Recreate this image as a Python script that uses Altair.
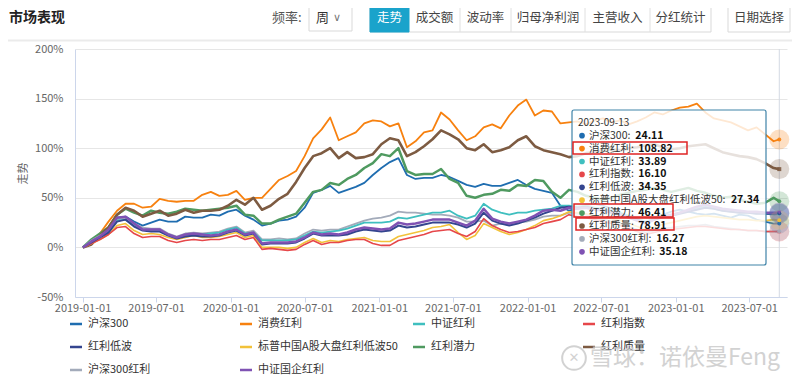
import altair as alt
import pandas as pd

FONT = "Noto Sans CJK SC"
OX, OY = 75, 49  # plot origin on the page

dates = [d.strftime("%Y-%m-%d") for d in pd.date_range("2019-01-02", periods=82, freq="21D")] + ["2023-09-13"]

names = ["沪深300", "消费红利", "中证红利", "红利指数", "红利低波",
         "标普中国A股大盘红利低波50", "红利潜力", "红利质量", "沪深300红利", "中证国企红利"]
colors = ["#1f6db0", "#f7810f", "#3fbfbf", "#e6474a", "#34458f",
          "#f2c23a", "#4f9a60", "#7d5b42", "#a3abba", "#7f52b3"]
widths = [1.8, 1.8, 1.8, 1.6, 2.0, 1.6, 2.5, 2.6, 1.8, 2.5]
end_shapes = ["circle", "circle", "circle", "triangle-up", "circle",
              "circle", "circle", "square", "circle", "triangle-down"]

hs300 = [0, 5, 12, 19, 30, 31, 26, 22, 25, 28, 26, 26, 31, 30, 30, 33, 32, 36, 38, 32,
         28, 22, 24, 27, 28, 31, 40, 55, 58, 62, 55, 58, 61, 65, 73, 80, 86, 90, 73, 69,
         70, 70, 73, 71, 67, 63, 61, 64, 62, 62, 65, 68, 63, 59, 57, 55, 42, 37, 39, 43,
         44, 42, 39, 35, 30, 27, 24, 30, 33, 36, 38, 36, 34, 33, 34, 32, 30, 33, 32, 28,
         26, 24, 24.11]
xiaofei = [0, 5, 14, 26, 37, 44, 44, 40, 41, 49, 47, 46, 47, 47, 53, 56, 52, 53, 57, 48,
           50, 50, 59, 68, 72, 77, 92, 110, 119, 131, 108, 112, 116, 125, 128, 127, 122, 125, 101, 107,
           116, 118, 136, 129, 118, 108, 112, 121, 124, 120, 133, 143, 149, 133, 138, 137, 125, 126, 127, 124,
           128, 130, 126, 128, 124, 127, 131, 136, 134, 138, 141, 142, 145, 136, 130, 128, 126, 122, 118, 121,
           114, 107, 108.82]
zzhl = [0, 6, 11, 16, 27, 28, 22, 18, 17, 17, 13, 10, 12, 13, 13, 14, 15, 18, 20, 14,
        15, 7, 7, 7, 7, 8, 12, 16, 15, 16, 17, 19, 22, 25, 25, 25, 26, 30, 29, 31,
        33, 35, 35, 37, 32, 29, 32, 44, 38, 35, 33, 35, 35, 37, 38, 39, 42, 42, 41, 42,
        40, 39, 37, 35, 32, 29, 26, 29, 31, 33, 35, 37, 39, 41, 39, 37, 36, 35, 35, 34,
        34, 33, 33.89]
hlzs = [0, 4, 8, 13, 20, 21, 14, 10, 11, 11, 7, 5, 7, 8, 7, 8, 8, 10, 12, 8,
        10, -2, -1, -2, -3, -2, 3, 7, 3, 5, 5, 7, 8, 8, 4, 2, 2, 7, 9, 11,
        13, 16, 17, 18, 14, 11, 16, 29, 22, 18, 15, 16, 18, 20, 24, 26, 28, 33, 31, 30,
        28, 26, 24, 22, 19, 16, 13, 15, 17, 18, 19, 20, 21, 21, 20, 19, 18, 18, 17, 17,
        16, 16, 16.10]
hldb = [0, 5, 10, 15, 26, 28, 21, 17, 16, 16, 12, 9, 11, 12, 11, 11, 12, 15, 17, 12,
        14, 3, 4, 4, 4, 5, 9, 14, 12, 12, 12, 13, 16, 18, 17, 16, 17, 22, 20, 21,
        23, 25, 25, 25, 23, 20, 24, 35, 27, 24, 22, 24, 27, 30, 34, 37, 40, 41, 40, 41,
        39, 38, 36, 34, 31, 28, 25, 28, 30, 32, 34, 36, 38, 40, 39, 37, 36, 35, 35, 34,
        34, 34, 34.35]
bp50 = [0, 4, 8, 13, 22, 24, 17, 13, 14, 13, 10, 8, 10, 12, 10, 10, 11, 13, 15, 10,
        12, 0, 0, 0, -1, 0, 5, 9, 5, 7, 6, 8, 9, 10, 7, 6, 6, 11, 13, 15,
        17, 20, 21, 23, 15, 8, 12, 24, 20, 16, 13, 15, 18, 22, 27, 29, 32, 36, 35, 34,
        32, 31, 29, 27, 24, 21, 18, 21, 23, 25, 27, 29, 31, 32, 31, 30, 29, 28, 28, 27,
        27, 28, 27.34]
hlql = [0, 8, 14, 20, 33, 39, 35, 32, 37, 35, 34, 36, 39, 38, 37, 38, 39, 40, 42, 33,
        32, 24, 24, 28, 31, 34, 45, 56, 58, 65, 63, 69, 73, 80, 85, 94, 92, 100, 77, 73,
        74, 74, 79, 69, 65, 52, 50, 53, 54, 58, 57, 63, 62, 68, 67, 56, 50, 58, 56, 52,
        50, 48, 50, 53, 55, 57, 58, 60, 58, 56, 58, 60, 57, 55, 52, 50, 51, 48, 46, 44,
        45, 50, 46.41]
hlzl = [0, 3, 12, 20, 33, 40, 37, 31, 34, 37, 32, 34, 38, 35, 37, 37, 38, 42, 48, 43,
        50, 38, 42, 49, 54, 66, 80, 92, 95, 100, 90, 96, 90, 91, 94, 104, 110, 108, 92, 96,
        102, 109, 118, 114, 109, 100, 98, 104, 96, 98, 101, 108, 112, 102, 98, 96, 94, 91, 92, 95,
        96, 98, 99, 98, 100, 101, 103, 104, 101, 99, 100, 102, 103, 104, 100, 96, 94, 92, 91, 89,
        85, 80, 78.91]
hs300hl = [0, 7, 12, 17, 28, 30, 24, 20, 19, 19, 14, 11, 14, 15, 14, 15, 16, 19, 21, 15,
           17, 8, 8, 9, 8, 9, 14, 18, 17, 18, 18, 21, 24, 27, 29, 30, 32, 36, 35, 35,
           34, 33, 33, 32, 30, 26, 26, 27, 22, 24, 23, 25, 26, 28, 31, 32, 32, 35, 34, 33,
           30, 28, 26, 24, 21, 18, 15, 17, 19, 20, 21, 22, 22, 23, 21, 20, 19, 18, 17, 17,
           16, 16, 16.27]
gqhl = [0, 6, 11, 18, 30, 31, 24, 18, 18, 18, 13, 10, 13, 14, 13, 12, 13, 16, 18, 13,
        15, 4, 5, 5, 5, 6, 10, 15, 13, 14, 13, 15, 18, 20, 19, 18, 19, 25, 23, 24,
        26, 28, 28, 28, 25, 22, 27, 39, 29, 26, 24, 26, 28, 32, 37, 38, 37, 40, 39, 40,
        38, 37, 35, 33, 30, 27, 24, 28, 31, 33, 35, 38, 41, 43, 41, 39, 38, 37, 36, 36,
        35, 35, 35.18]

series = [hs300, xiaofei, zzhl, hlzs, hldb, bp50, hlql, hlzl, hs300hl, gqhl]
draw_order = [1, 0, 6, 7, 8, 2, 5, 3, 4, 9]

y_ticks = [-50, 0, 50, 100, 150, 200]
x_ticks = ["2019-01-01", "2019-07-01", "2020-01-01", "2020-07-01", "2021-01-01",
           "2021-07-01", "2022-01-01", "2022-07-01", "2023-01-01", "2023-07-01"]
tip_date = "2023-09-13"

legend_cols_icon = [70, 240, 413, 583]
legend_cols_text = [88, 258, 431, 601]
legend_rows = [324, 347, 370]

buttons = ["走势", "成交额", "波动率", "归母净利润", "主营收入", "分红统计"]
button_edges = [370, 409, 460, 511, 585, 650, 711]


def dt(s, **kw):
    y, m, d = (int(p) for p in s.split("-"))
    return alt.DateTime(year=y, month=m, date=d, utc=True, **kw)


x_scale = alt.Scale(type="utc", domain=[dt("2018-12-13", hours=12), dt("2023-10-02")])
y_scale = alt.Scale(domain=[-50, 200], nice=False, zero=False)
x_enc = alt.X("date:T", scale=x_scale,
              axis=alt.Axis(values=[dt(s) for s in x_ticks], format="%Y-%m-%d", title="",
                            grid=False, domainColor="#ccd6eb", tickColor="#ccd6eb", tickSize=5,
                            labelColor="#666", labelFontSize=11, labelPadding=0))
y_enc = alt.Y("value:Q", scale=y_scale,
              axis=alt.Axis(values=y_ticks, labelExpr="datum.value + '%'", title="走势",
                            titleColor="#666", titleFontSize=11, titleFontWeight="normal",
                            titlePadding=6, ticks=False, domainColor="#ccd6eb",
                            gridColor="#e6e6e6", labelColor="#666", labelFontSize=11,
                            labelPadding=12))

ONE = alt.Data(values=[{"k": 0}])


def txt(s, ax, ay, size=12, color="#333", weight="normal", align="left", font=FONT, opacity=1.0):
    return alt.Chart(ONE).mark_text(text=s, align=align, baseline="middle", fontSize=size,
                                    color=color, fontWeight=weight, font=font,
                                    opacity=opacity).encode(x=alt.value(ax - OX), y=alt.value(ay - OY))


def box(x1, y1, x2, y2, fill="#ffffff", stroke="#d9d9d9", sw=1.0, fo=1.0, cr=0):
    return alt.Chart(ONE).mark_rect(fill=fill, stroke=stroke, strokeWidth=sw, fillOpacity=fo,
                                    cornerRadius=cr).encode(
        x=alt.value(x1 - OX), x2=alt.value(x2 - OX), y=alt.value(y1 - OY), y2=alt.value(y2 - OY))


def hline(x1, x2, y, color, sw):
    return alt.Chart(ONE).mark_rule(color=color, strokeWidth=sw).encode(
        x=alt.value(x1 - OX), x2=alt.value(x2 - OX), y=alt.value(y - OY))


def vline(x, y1, y2, color, sw=1):
    return alt.Chart(ONE).mark_rule(color=color, strokeWidth=sw).encode(
        x=alt.value(x - OX), y=alt.value(y1 - OY), y2=alt.value(y2 - OY))


def dot(ax, ay, color, size=40, opacity=1.0):
    return alt.Chart(ONE).mark_circle(color=color, size=size, opacity=opacity).encode(
        x=alt.value(ax - OX), y=alt.value(ay - OY))


def tw(s, f):
    w = 0.0
    for ch in s:
        if ord(ch) > 0x2E80:
            w += f
        elif ch.isdigit():
            w += 0.57 * f
        elif ch == ":":
            w += 0.3 * f
        elif ch == " ":
            w += 0.3 * f
        elif ch.isupper():
            w += 0.68 * f
        else:
            w += 0.52 * f
    return w


layers = []

# crosshair at tooltip date
layers.append(alt.Chart(pd.DataFrame({"date": [tip_date]})).mark_rule(
    color="#d3d9e3", strokeWidth=1).encode(x=alt.X("date:T")))

# series lines
for i in draw_order:
    df = pd.DataFrame({"date": dates, "value": series[i]})
    layers.append(alt.Chart(df).mark_line(color=colors[i], strokeWidth=widths[i],
                                          strokeJoin="round").encode(x=x_enc, y=y_enc))

# end markers
last = pd.DataFrame({"date": [dates[-1]] * len(names), "value": [s[-1] for s in series],
                     "name": names, "shape": end_shapes})
cscale = alt.Scale(domain=names, range=colors)
layers.append(alt.Chart(last).mark_circle(size=400, opacity=0.25).encode(
    x="date:T", y="value:Q", color=alt.Color("name:N", scale=cscale, legend=None)))
layers.append(alt.Chart(last).mark_point(filled=True, size=16, opacity=0.9).encode(
    x="date:T", y="value:Q", color=alt.Color("name:N", scale=cscale, legend=None),
    shape=alt.Shape("shape:N", scale=None)))

# tooltip box
layers.append(box(572, 110, 766, 265, fill="#ffffff", stroke="#3f83a8", sw=1.2, fo=0.82, cr=2))
layers.append(txt(tip_date, 578, 122.5, size=10, color="#333"))
for i, nm in enumerate(names):
    ry = 135.7 + 12.9 * i
    layers.append(dot(582, ry, colors[i], size=32))
    label = nm + ": "
    layers.append(txt(label, 589, ry, size=10.5, color="#333"))
    layers.append(txt(f"{series[i][-1]:.2f}", 589 + tw(label, 10.5) + 1, ry, size=10.5,
                      color="#111", weight="bold"))
# red highlight boxes
layers.append(box(573, 142, 687, 154, fill="#ffffff", stroke="#e02424", sw=1.5, fo=0))
layers.append(box(574, 204, 673, 217, fill="#ffffff", stroke="#e02424", sw=1.5, fo=0))
layers.append(box(576, 218, 674, 230, fill="#ffffff", stroke="#e02424", sw=1.5, fo=0))

# header
layers.append(txt("市场表现", 9, 18, size=14, color="#222", weight="bold"))
layers.append(box(8, 39.5, 792, 41.5, fill="#ebebeb", stroke="#ebebeb", sw=0))
layers.append(txt("频率:", 272, 18, size=13, color="#555"))
layers.append(box(309, 5, 352, 31, fill="#ffffff", stroke="#d9d9d9"))
layers.append(txt("周", 316, 18, size=13, color="#333"))
layers.append(txt("∨", 333, 18, size=11, color="#777", font="DejaVu Sans"))
layers.append(box(button_edges[0], 4, button_edges[-1], 32, fill="#ffffff", stroke="#d9d9d9"))
layers.append(box(button_edges[0], 4, button_edges[1], 32, fill="#1aa3cb", stroke="#1aa3cb"))
for e in button_edges[2:-1]:
    layers.append(vline(e, 4, 32, "#e0e0e0"))
for j, b in enumerate(buttons):
    cx = (button_edges[j] + button_edges[j + 1]) / 2
    layers.append(txt(b, cx, 18, size=12.5, color="#ffffff" if j == 0 else "#444", align="center"))
layers.append(box(728, 4, 790, 32, fill="#ffffff", stroke="#d9d9d9"))
layers.append(txt("日期选择", 759, 18, size=12.5, color="#444", align="center"))

# legend
for i, nm in enumerate(names):
    c, r = i % 4, i // 4
    ly = legend_rows[r]
    layers.append(hline(legend_cols_icon[c], legend_cols_icon[c] + 12, ly, colors[i], 2.5))
    layers.append(txt(nm, legend_cols_text[c], ly, size=11, color="#333"))

# watermark
layers.append(alt.Chart(ONE).mark_point(shape="circle", size=560, filled=False, color="#c8c8c8",
                                        strokeWidth=2, opacity=0.8).encode(
    x=alt.value(574 - OX), y=alt.value(358 - OY)))
layers.append(txt("✕", 574, 358, size=13, color="#c8c8c8", font="DejaVu Sans", align="center", opacity=0.8))
layers.append(txt("雪球：诺依曼Feng", 590, 358, size=23, color="#c8c8c8", opacity=0.8))

chart = alt.layer(*layers).properties(
    width=712, height=248,
    padding={"left": 67, "top": 41, "right": 5, "bottom": 85},
    autosize=alt.AutoSizeParams(type="none"),
).configure(font=FONT).configure_view(strokeWidth=0)

chart.save("out.html", embed_options={"renderer": "svg", "actions": False})
